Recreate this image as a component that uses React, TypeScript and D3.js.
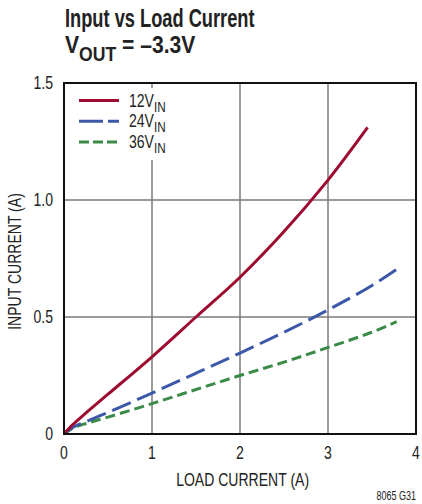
import React, { useEffect, useRef } from 'react'
import * as d3 from 'd3'

// values
const load12 = [0, 0.1, 0.25, 0.5, 1.0, 1.5, 2.0, 2.5, 3.0, 3.45]
const in12 = [0, 0.04, 0.09, 0.17, 0.33, 0.5, 0.67, 0.865, 1.085, 1.31]

const load24 = [0, 0.1, 0.25, 0.5, 1.0, 1.5, 2.0, 2.5, 3.0, 3.5, 3.82]
const in24 = [0, 0.028, 0.053, 0.092, 0.175, 0.26, 0.346, 0.435, 0.53, 0.635, 0.714]

const load36 = [0, 0.1, 0.25, 0.5, 1.0, 1.5, 2.0, 2.5, 3.0, 3.5, 3.78]
const in36 = [0, 0.025, 0.045, 0.072, 0.13, 0.19, 0.25, 0.307, 0.37, 0.435, 0.48]

const xTicks = [0, 1, 2, 3, 4]
const yTicks = [0, 0.5, 1.0, 1.5]
const yTickLabels = ['0', '0.5', '1.0', '1.5']

const series = [
  { name: '12V', xs: load12, ys: in12, color: '#9e0b30', dash: '' },
  { name: '24V', xs: load24, ys: in24, color: '#3c58a8', dash: '20,7' },
  { name: '36V', xs: load36, ys: in36, color: '#3a8a48', dash: '10,5' },
]

const FONT = '"Liberation Sans", Arial, sans-serif'
const SX = 0.78 // horizontal squeeze to mimic a condensed face

// text placed with a condensed transform
function addText(parent: any, x: number, y: number, size: number, anchor: string, sx = SX, bold = false) {
  return parent.append('text')
    .attr('transform', `translate(${x},${y}) scale(${sx},1)`)
    .attr('text-anchor', anchor)
    .style('font-family', FONT)
    .style('font-size', `${size}px`)
    .style('font-weight', bold ? 'bold' : 'normal')
    .attr('fill', '#222')
}

const Chart: React.FC = () => {
  const svgRef = useRef<SVGSVGElement>(null)

  useEffect(() => {
    if (!svgRef.current) return
    const svg = d3.select(svgRef.current)
    svg.selectAll('*').remove()

    const left = 64, right = 416, top = 83, bottom = 434

    const x = d3.scaleLinear().domain([0, 4]).range([left, right])
    const y = d3.scaleLinear().domain([0, 1.5]).range([bottom, top])

    // title
    addText(svg, 65, 27, 25, 'start', 0.73, true).text('Input vs Load Current')
    const t2 = addText(svg, 65, 53, 24, 'start', 0.88, true)
    t2.append('tspan').text('V')
    t2.append('tspan').attr('dy', 8).style('font-size', '20px').text('OUT')
    t2.append('tspan').attr('dy', -8).text(' = –3.3V')

    // grid
    svg.append('g').selectAll('line')
      .data(xTicks.slice(1, -1)).enter().append('line')
      .attr('x1', d => x(d)).attr('x2', d => x(d))
      .attr('y1', top).attr('y2', bottom)
      .attr('stroke', '#7a7a7a').attr('stroke-width', 1.5)
    svg.append('g').selectAll('line')
      .data(yTicks.slice(1, -1)).enter().append('line')
      .attr('x1', left).attr('x2', right)
      .attr('y1', d => y(d)).attr('y2', d => y(d))
      .attr('stroke', '#7a7a7a').attr('stroke-width', 1.5)

    // legend background
    svg.append('rect')
      .attr('x', 72).attr('y', 88).attr('width', 100).attr('height', 72)
      .attr('fill', '#fff')

    // curves
    const line = d3.line<[number, number]>()
      .x(d => x(d[0])).y(d => y(d[1]))
      .curve(d3.curveCatmullRom.alpha(0.5))

    series.slice().reverse().forEach(s => {
      const pts = s.xs.map((v, i) => [v, s.ys[i]] as [number, number])
      svg.append('path')
        .datum(pts)
        .attr('fill', 'none')
        .attr('stroke', s.color)
        .attr('stroke-width', 3)
        .attr('stroke-dasharray', s.dash || null)
        .attr('d', line)
    })

    // frame
    svg.append('rect')
      .attr('x', left).attr('y', top)
      .attr('width', right - left).attr('height', bottom - top)
      .attr('fill', 'none').attr('stroke', '#111').attr('stroke-width', 2)

    // tick labels
    xTicks.forEach(d => {
      addText(svg, x(d), 459, 18, 'middle').text(String(d))
    })
    yTicks.forEach((d, i) => {
      addText(svg, 53, y(d) + 6, 18, 'end').text(yTickLabels[i])
    })

    // axis titles
    addText(svg, x(2.03), 486, 18, 'middle').text('LOAD CURRENT (A)')
    svg.append('text')
      .attr('transform', `translate(21,${(top + bottom) / 2 + 3}) rotate(-90) scale(${SX},1)`)
      .attr('text-anchor', 'middle')
      .style('font-family', FONT).style('font-size', '18px')
      .attr('fill', '#222')
      .text('INPUT CURRENT (A)')

    // legend
    series.forEach((s, i) => {
      const ly = 100.5 + i * 20.7
      svg.append('line')
        .attr('x1', 79).attr('x2', 119).attr('y1', ly).attr('y2', ly)
        .attr('stroke', s.color).attr('stroke-width', 3)
        .attr('stroke-dasharray', s.dash ? (i === 1 ? '24,5' : '10,4') : null)
      const t = addText(svg, 129, ly + 6, 18, 'start')
      t.append('tspan').text(s.name)
      t.append('tspan').attr('dy', 5).style('font-size', '15px').text('IN')
    })

    // figure code
    addText(svg, 416, 500, 12, 'end', 0.75).text('8065 G31')
  }, [])

  return (
    <svg
      ref={svgRef}
      width={422}
      height={504}
      style={{ position: 'absolute', left: 0, top: 0, background: '#fff' }}
    />
  )
}

export default function App() {
  return <Chart />
}
